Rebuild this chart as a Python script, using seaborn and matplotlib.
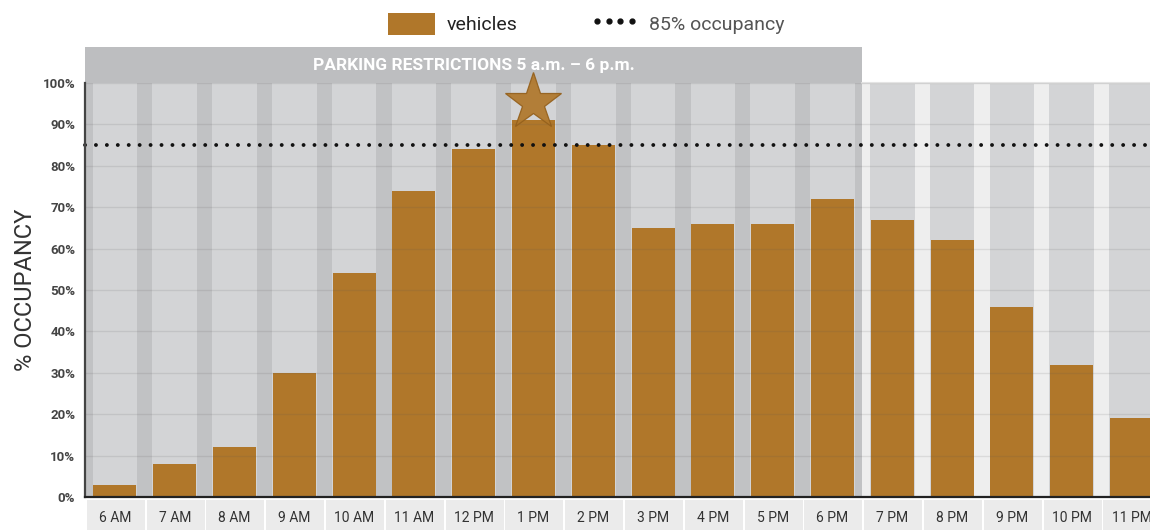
import numpy as np
import pandas as pd
import matplotlib.pyplot as plt
import seaborn as sns
from matplotlib.patches import Rectangle, Patch
from matplotlib.lines import Line2D

# --- data ---
hours = ["6 AM", "7 AM", "8 AM", "9 AM", "10 AM", "11 AM", "12 PM", "1 PM", "2 PM",
         "3 PM", "4 PM", "5 PM", "6 PM", "7 PM", "8 PM", "9 PM", "10 PM", "11 PM"]
occupancy = [3, 8, 12, 30, 54, 74, 84, 91, 85, 65, 66, 66, 72, 67, 62, 46, 32, 19]
target = 85
peak_hour = "1 PM"
peak_marker_y = 95.3
restricted_hours = hours[:13]  # 6 AM .. 6 PM
restriction_label = "PARKING RESTRICTIONS 5 a.m. \u2013 6 p.m."

df = pd.DataFrame({"hour": hours, "occupancy": occupancy})

BROWN = "#b0772a"
CELL = "#d3d4d6"
GAP_RESTRICTED = "#c1c2c4"
GAP_OPEN = "#eeeeee"

sns.set_theme(style="white")
plt.rcParams["font.family"] = ["Roboto", "DejaVu Sans"]

fig = plt.figure(figsize=(11.5, 5.3), dpi=100)
ax = fig.add_axes([85 / 1150, 33 / 530, 1 - 85 / 1150, (497 - 83) / 530])

n = len(hours)
n_restr = len(restricted_hours)
pos = np.arange(n)

# column backgrounds
ax.axvspan(-0.5, n_restr - 0.5, color=GAP_RESTRICTED, zorder=0, lw=0)
ax.axvspan(n_restr - 0.5, n + 1, color=GAP_OPEN, zorder=0, lw=0)
ax.bar(pos, [100] * n, width=0.745, color=CELL, zorder=0.3, lw=0)

# vehicle bars
sns.barplot(data=df, x="hour", y="occupancy", order=hours, color=BROWN,
            width=0.72, saturation=1, ax=ax, zorder=2, linewidth=0,
            edgecolor=BROWN)

# grid lines drawn faintly over everything
for v in range(10, 101, 10):
    ax.axhline(v, color="#555555", alpha=0.13, lw=1, zorder=3)

# 85% target line
ax.axhline(target, color="#111111", lw=2.8, ls=(0, (0.01, 2.8)),
           dash_capstyle="round", zorder=4, clip_on=False)

# star over the peak
ax.plot(hours.index(peak_hour), peak_marker_y, marker="*", ms=43,
        color=BROWN, alpha=0.92, mec="#94601c", mew=0.9, zorder=5, clip_on=False)

# restriction header band
ax.add_patch(Rectangle((-0.5, 100), n_restr, 8.7, color="#bdbec0",
                       clip_on=False, zorder=1, lw=0))
ax.plot([n_restr - 0.5, n + 1], [100.1, 100.1], color="#e4e4e4", lw=1.5,
        clip_on=False, zorder=1)
ax.text((n_restr - 1) / 2, 104.2, restriction_label, ha="center", va="center",
        color="white", fontsize=12.5, fontweight="bold", zorder=6)

# label boxes under the axis
for i in pos:
    ax.add_patch(Rectangle((i - 0.5 + 0.03, -0.8), 0.97, -9, color="#ebebeb",
                           clip_on=False, zorder=0.1, lw=0))

ax.set_xlim(-0.5, 17.31)
ax.set_ylim(0, 100)
ax.set_yticks(range(0, 101, 10))
ax.set_yticklabels([f"{v}%" for v in range(0, 101, 10)])
ax.tick_params(axis="y", length=0, pad=7, labelsize=9.5, labelcolor="#444444")
ax.tick_params(axis="x", length=0, pad=10, labelsize=10, labelcolor="#333333")
for lab in ax.get_yticklabels():
    lab.set_fontweight("bold")
ax.set_xlabel("")
ax.set_ylabel("% OCCUPANCY", fontsize=17, color="#333333", labelpad=4)

for s in ["top", "right"]:
    ax.spines[s].set_visible(False)
ax.spines["left"].set_color("#444444")
ax.spines["left"].set_linewidth(1.6)
ax.spines["left"].set_zorder(6)
ax.spines["bottom"].set_color("#222222")
ax.spines["bottom"].set_linewidth(1.6)
ax.spines["bottom"].set_zorder(6)

handles = [Patch(facecolor=BROWN, edgecolor="none", label="vehicles"),
           Line2D([0], [0], color="#111111", ls="none", marker="o", ms=3.5,
                  label="85% occupancy")]
leg = fig.legend(handles=handles, loc="center", bbox_to_anchor=(0.51, 0.955),
                 ncol=2, frameon=False, fontsize=14, handlelength=2.4,
                 handleheight=1.4, handletextpad=0.6, columnspacing=3.8,
                 numpoints=4)
for t, c in zip(leg.get_texts(), ["#222222", "#555555"]):
    t.set_color(c)

fig.savefig("out.png", dpi=100)
